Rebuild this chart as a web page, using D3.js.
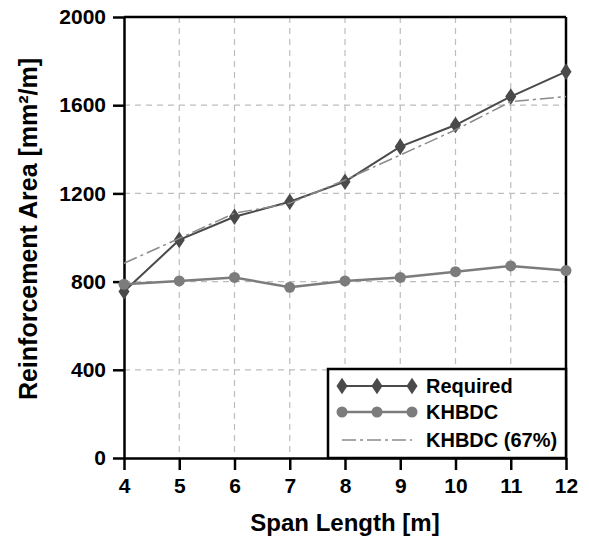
<!DOCTYPE html>
<html>
<head>
<meta charset="utf-8">
<script src="https://cdnjs.cloudflare.com/ajax/libs/d3/7.8.5/d3.min.js"></script>
<style>
  body { margin: 0; background: #fff; }
  svg { font-family: "Liberation Sans", Arial, sans-serif; font-weight: bold; }
  .grid line { stroke: #bdbdbd; stroke-width: 1.2; stroke-dasharray: 6,5; }
  .axis path, .axis line { stroke: #000; stroke-width: 2.5; }
  .axis text { font-size: 21px; font-weight: bold; fill: #000; }
</style>
</head>
<body>
<div id="chart"></div>
<script>
// data
const spans = [4, 5, 6, 7, 8, 9, 10, 11, 12];
const required = [755, 989, 1094, 1162, 1253, 1412, 1510, 1639, 1752];
const khbdc = [788, 803, 819, 774, 803, 819, 845, 871, 850];
const khbdc67 = [883, 996, 1110, 1155, 1261, 1374, 1488, 1616, 1639];
const yTicks = [0, 400, 800, 1200, 1600, 2000];
const seriesNames = ['Required', 'KHBDC', 'KHBDC (67%)'];

const margin = {top: 17, right: 23, bottom: 82, left: 124};
const width = 589 - margin.left - margin.right,
    height = 540 - margin.top - margin.bottom;

const svg = d3.select('#chart').append('svg')
    .attr('width', 589)
    .attr('height', 540)
    .append('g')
    .attr('transform', `translate(${margin.left}, ${margin.top})`);

const xScale = d3.scaleLinear()
    .domain([4, 12])
    .range([0, width]);

const yScale = d3.scaleLinear()
    .domain([0, 2000])
    .range([height, 0]);

// dashed grid
const grid = svg.append('g').attr('class', 'grid');
grid.selectAll('.gx')
    .data(spans.slice(1, -1))
    .enter().append('line')
    .attr('x1', d => xScale(d)).attr('x2', d => xScale(d))
    .attr('y1', 0).attr('y2', height);
grid.selectAll('.gy')
    .data(yTicks.slice(1, -1))
    .enter().append('line')
    .attr('x1', 0).attr('x2', width)
    .attr('y1', d => yScale(d)).attr('y2', d => yScale(d));

// frame top / right
svg.append('line')
    .attr('x1', 0).attr('x2', width).attr('y1', 0).attr('y2', 0)
    .attr('stroke', '#000').attr('stroke-width', 2.5);
svg.append('line')
    .attr('x1', width).attr('x2', width).attr('y1', 0).attr('y2', height)
    .attr('stroke', '#000').attr('stroke-width', 2.5);

const xAxis = d3.axisBottom(xScale)
    .tickValues(spans)
    .tickFormat(d3.format('d'))
    .tickSize(12)
    .tickPadding(8)
    .tickSizeOuter(0);

svg.append('g')
    .attr('class', 'axis x-axis')
    .attr('transform', `translate(0, ${height})`)
    .call(xAxis);

const yAxis = d3.axisLeft(yScale)
    .tickValues(yTicks)
    .tickFormat(d3.format('d'))
    .tickSize(11)
    .tickPadding(7)
    .tickSizeOuter(0);

svg.append('g')
    .attr('class', 'axis y-axis')
    .call(yAxis);

// titles
svg.append('text')
    .attr('x', width / 2)
    .attr('y', 514)
    .attr('text-anchor', 'middle')
    .attr('font-size', 24)
    .text('Span Length [m]');

svg.append('text')
    .attr('transform', `translate(${37 - margin.left}, ${229 - margin.top}) rotate(-90)`)
    .attr('text-anchor', 'middle')
    .attr('font-size', 25)
    .text('Reinforcement Area [mm²/m]');

// series
const line = d3.line()
    .x((d, i) => xScale(spans[i]))
    .y(d => yScale(d));

const diamond = d3.symbol().type(d3.symbolDiamond).size(80);

svg.append('path')
    .datum(required)
    .attr('fill', 'none')
    .attr('stroke', '#4a4a4a')
    .attr('stroke-width', 2)
    .attr('d', line);

svg.selectAll('.req')
    .data(required)
    .enter().append('path')
    .attr('class', 'req')
    .attr('d', diamond)
    .attr('fill', '#4a4a4a')
    .attr('transform', (d, i) => `translate(${xScale(spans[i])}, ${yScale(d)}) scale(1.15,1)`);

svg.append('path')
    .datum(khbdc)
    .attr('fill', 'none')
    .attr('stroke', '#7c7c7c')
    .attr('stroke-width', 2.5)
    .attr('d', line);

svg.selectAll('.kh')
    .data(khbdc)
    .enter().append('circle')
    .attr('class', 'kh')
    .attr('cx', (d, i) => xScale(spans[i]))
    .attr('cy', d => yScale(d))
    .attr('r', 5.5)
    .attr('fill', '#7c7c7c');

svg.append('path')
    .datum(khbdc67)
    .attr('fill', 'none')
    .attr('stroke', '#8a8a8a')
    .attr('stroke-width', 1.5)
    .attr('stroke-dasharray', '14,4,3,4')
    .attr('d', line);

// legend
const legend = svg.append('g')
    .attr('transform', `translate(${328 - margin.left}, ${369 - margin.top})`);

legend.append('rect')
    .attr('width', 566 - 328)
    .attr('height', 458 - 369)
    .attr('fill', '#fff')
    .attr('stroke', '#000')
    .attr('stroke-width', 2.5);

const rows = [17, 43, 71];
const sampleX = [14, 49, 84];

// Required
legend.append('line')
    .attr('x1', 14).attr('x2', 84).attr('y1', rows[0]).attr('y2', rows[0])
    .attr('stroke', '#4a4a4a').attr('stroke-width', 2);
legend.selectAll('.lreq')
    .data(sampleX)
    .enter().append('path')
    .attr('d', diamond)
    .attr('fill', '#4a4a4a')
    .attr('transform', d => `translate(${d}, ${rows[0]}) scale(1.15,1)`);

// KHBDC
legend.append('line')
    .attr('x1', 14).attr('x2', 84).attr('y1', rows[1]).attr('y2', rows[1])
    .attr('stroke', '#7c7c7c').attr('stroke-width', 2.5);
legend.selectAll('.lkh')
    .data(sampleX)
    .enter().append('circle')
    .attr('cx', d => d).attr('cy', rows[1]).attr('r', 5.5)
    .attr('fill', '#7c7c7c');

// KHBDC (67%)
legend.append('line')
    .attr('x1', 14).attr('x2', 84).attr('y1', rows[2]).attr('y2', rows[2])
    .attr('stroke', '#8a8a8a').attr('stroke-width', 1.5)
    .attr('stroke-dasharray', '14,4,3,4');

legend.selectAll('.ltxt')
    .data(seriesNames)
    .enter().append('text')
    .attr('x', 98)
    .attr('y', (d, i) => rows[i] + 7)
    .attr('font-size', 20)
    .text(d => d);
</script>
</body>
</html>
